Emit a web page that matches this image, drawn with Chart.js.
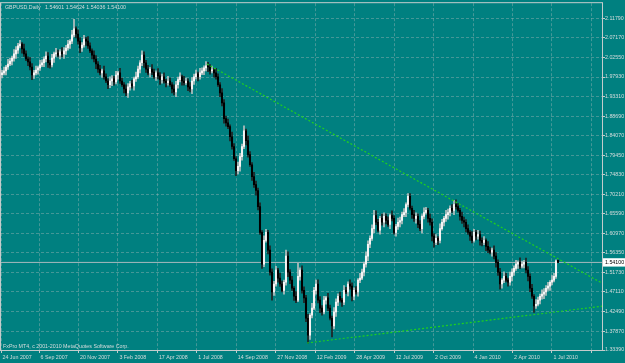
<!DOCTYPE html>
<html>
<head>
<meta charset="utf-8">
<title>GBPUSD,Daily</title>
<script src="https://cdn.jsdelivr.net/npm/chart.js@4.4.0/dist/chart.umd.min.js"></script>
<style>
    html, body { margin: 0; padding: 0; background: #008080; overflow: hidden; }
    canvas { display: block; }
</style>
</head>
<body>
<canvas id="priceCanvas" width="625" height="363"></canvas>
<script>
// one bar per ~3 trading days
var opens = [1.985,1.989,1.994,2.003,2.010,2.017,2.024,2.034,2.043,2.053,
2.057,2.046,2.034,2.022,2.015,2.003,1.984,1.989,1.996,2.001,
2.008,2.013,2.022,2.029,2.013,2.008,2.024,2.034,2.036,2.031,
2.039,2.034,2.041,2.048,2.057,2.064,2.079,2.093,2.081,2.064,
2.048,2.055,2.069,2.064,2.053,2.041,2.031,2.022,2.010,1.998,
1.989,1.994,1.980,1.970,1.961,1.970,1.975,1.968,1.984,1.989,
1.970,1.961,1.951,1.942,1.956,1.963,1.958,1.975,1.980,1.998,
2.013,2.031,2.013,1.998,1.989,1.998,1.991,1.980,1.989,1.982,
1.973,1.980,1.970,1.966,1.970,1.961,1.951,1.944,1.961,1.973,
1.980,1.970,1.966,1.970,1.956,1.951,1.970,1.980,1.987,1.980,
1.989,1.994,2.001,2.006,2.003,1.994,1.996,1.989,1.980,1.961,
1.942,1.918,1.881,1.871,1.862,1.838,1.815,1.786,1.758,1.768,
1.791,1.815,1.852,1.829,1.796,1.772,1.744,1.725,1.711,1.673,
1.612,1.537,1.593,1.612,1.570,1.518,1.471,1.490,1.523,1.504,
1.490,1.475,1.494,1.556,1.518,1.499,1.480,1.461,1.452,1.508,
1.523,1.475,1.457,1.409,1.369,1.416,1.433,1.475,1.490,1.452,
1.433,1.424,1.452,1.457,1.433,1.409,1.391,1.424,1.447,1.461,
1.452,1.447,1.475,1.471,1.490,1.485,1.461,1.475,1.471,1.499,
1.504,1.518,1.537,1.556,1.584,1.598,1.621,1.652,1.636,1.617,
1.645,1.636,1.650,1.640,1.631,1.652,1.645,1.612,1.626,1.636,
1.640,1.654,1.659,1.678,1.697,1.669,1.654,1.645,1.650,1.631,
1.621,1.650,1.659,1.664,1.645,1.636,1.603,1.588,1.598,1.593,
1.621,1.636,1.645,1.654,1.659,1.669,1.664,1.678,1.673,1.664,
1.650,1.640,1.636,1.621,1.612,1.603,1.593,1.612,1.603,1.607,
1.593,1.588,1.593,1.579,1.570,1.565,1.570,1.556,1.541,1.518,
1.490,1.499,1.508,1.499,1.494,1.508,1.518,1.527,1.537,1.541,
1.532,1.537,1.541,1.523,1.508,1.480,1.461,1.438,1.442,1.452,
1.461,1.466,1.471,1.480,1.485,1.494,1.499,1.508,1.54601];

var highs = [1.995,2.003,2.007,2.021,2.024,2.029,2.044,2.051,2.059,2.066,
2.061,2.057,2.041,2.027,2.025,2.011,1.995,2.005,2.005,2.019,
2.020,2.027,2.039,2.037,2.019,2.033,2.038,2.047,2.043,2.044,
2.049,2.049,2.054,2.066,2.068,2.090,2.116,2.098,2.091,2.072,
2.061,2.078,2.073,2.075,2.060,2.046,2.041,2.030,2.016,2.007,
1.998,2.005,1.987,1.975,1.980,1.983,1.981,1.993,1.993,2.000,
1.977,1.966,1.961,1.964,1.969,1.972,1.979,1.991,2.005,2.018,
2.041,2.039,2.019,2.007,2.002,2.009,1.998,1.994,1.999,1.990,
1.986,1.989,1.974,1.981,1.977,1.966,1.961,1.969,1.979,1.989,
1.984,1.981,1.977,1.975,1.966,1.978,1.986,1.996,1.991,2.000,
2.001,2.006,2.016,2.014,2.009,2.005,2.000,2.000,1.987,1.966,
1.952,1.926,1.887,1.880,1.866,1.849,1.822,1.791,1.778,1.799,
1.821,1.864,1.856,1.840,1.803,1.777,1.754,1.733,1.717,1.682,
1.616,1.604,1.619,1.617,1.580,1.526,1.496,1.532,1.527,1.515,
1.497,1.499,1.570,1.566,1.524,1.508,1.484,1.472,1.539,1.528,
1.533,1.483,1.463,1.418,1.420,1.444,1.482,1.499,1.500,1.460,
1.439,1.461,1.461,1.468,1.440,1.414,1.434,1.455,1.467,1.470,
1.456,1.486,1.482,1.495,1.500,1.493,1.481,1.484,1.503,1.515,
1.525,1.542,1.566,1.592,1.604,1.630,1.664,1.663,1.643,1.650,
1.655,1.658,1.656,1.649,1.656,1.663,1.652,1.631,1.646,1.648,
1.660,1.668,1.682,1.704,1.704,1.674,1.664,1.658,1.656,1.640,
1.654,1.670,1.671,1.669,1.655,1.644,1.609,1.607,1.602,1.632,
1.643,1.650,1.664,1.667,1.675,1.678,1.688,1.689,1.680,1.669,
1.660,1.648,1.642,1.630,1.616,1.614,1.619,1.617,1.617,1.615,
1.599,1.602,1.597,1.590,1.577,1.575,1.580,1.564,1.547,1.527,
1.503,1.519,1.515,1.504,1.518,1.526,1.533,1.546,1.545,1.552,
1.544,1.546,1.551,1.531,1.514,1.489,1.465,1.453,1.459,1.466,
1.476,1.479,1.486,1.494,1.498,1.510,1.515,1.547,1.54624];

var lows = [1.977,1.984,1.984,1.997,2.006,2.008,2.017,2.023,2.035,2.048,
2.036,2.028,2.018,2.006,1.996,1.973,1.976,1.984,1.986,1.995,
2.004,2.004,2.015,2.002,2.000,2.003,2.014,2.028,2.027,2.022,
2.027,2.023,2.033,2.043,2.047,2.058,2.075,2.072,2.057,2.037,
2.040,2.050,2.054,2.047,2.037,2.022,2.015,1.999,1.990,1.984,
1.979,1.974,1.966,1.952,1.954,1.959,1.960,1.963,1.974,1.964,
1.957,1.942,1.935,1.931,1.948,1.953,1.948,1.969,1.976,1.989,
2.006,2.002,1.990,1.984,1.979,1.985,1.976,1.971,1.975,1.962,
1.965,1.965,1.956,1.960,1.957,1.942,1.937,1.933,1.953,1.968,
1.960,1.960,1.962,1.947,1.944,1.940,1.962,1.975,1.970,1.974,
1.985,1.985,1.994,1.992,1.986,1.989,1.979,1.974,1.957,1.933,
1.911,1.870,1.863,1.857,1.828,1.809,1.782,1.746,1.751,1.757,
1.783,1.810,1.819,1.790,1.768,1.735,1.718,1.700,1.665,1.607,
1.527,1.531,1.589,1.561,1.511,1.452,1.463,1.485,1.494,1.484,
1.471,1.466,1.487,1.507,1.491,1.475,1.451,1.446,1.448,1.499,
1.468,1.446,1.401,1.350,1.359,1.410,1.429,1.466,1.445,1.422,
1.416,1.419,1.442,1.427,1.405,1.365,1.384,1.413,1.439,1.447,
1.437,1.441,1.467,1.462,1.478,1.450,1.453,1.466,1.461,1.493,
1.500,1.509,1.530,1.545,1.576,1.593,1.611,1.630,1.613,1.608,
1.629,1.625,1.632,1.626,1.621,1.639,1.608,1.603,1.619,1.625,
1.632,1.649,1.649,1.672,1.665,1.645,1.638,1.634,1.623,1.616,
1.611,1.644,1.655,1.636,1.629,1.592,1.577,1.583,1.583,1.587,
1.617,1.627,1.638,1.643,1.651,1.659,1.654,1.667,1.660,1.641,
1.633,1.625,1.613,1.607,1.593,1.587,1.589,1.594,1.596,1.582,
1.580,1.583,1.569,1.564,1.561,1.556,1.549,1.530,1.510,1.478,
1.480,1.493,1.495,1.485,1.487,1.497,1.510,1.522,1.527,1.526,
1.528,1.528,1.516,1.497,1.472,1.456,1.423,1.432,1.438,1.443,
1.454,1.455,1.463,1.475,1.475,1.488,1.495,1.503,1.54036];

var closes = [1.989,1.994,2.003,2.010,2.017,2.024,2.034,2.043,2.053,2.057,
2.046,2.034,2.022,2.015,2.003,1.984,1.989,1.996,2.001,2.008,
2.013,2.022,2.029,2.013,2.008,2.024,2.034,2.036,2.031,2.039,
2.034,2.041,2.048,2.057,2.064,2.079,2.093,2.081,2.064,2.048,
2.055,2.069,2.064,2.053,2.041,2.031,2.022,2.010,1.998,1.989,
1.994,1.980,1.970,1.961,1.970,1.975,1.968,1.984,1.989,1.970,
1.961,1.951,1.942,1.956,1.963,1.958,1.975,1.980,1.998,2.013,
2.031,2.013,1.998,1.989,1.998,1.991,1.980,1.989,1.982,1.973,
1.980,1.970,1.966,1.970,1.961,1.951,1.944,1.961,1.973,1.980,
1.970,1.966,1.970,1.956,1.951,1.970,1.980,1.987,1.980,1.989,
1.994,2.001,2.006,2.003,1.994,1.996,1.989,1.980,1.961,1.942,
1.918,1.881,1.871,1.862,1.838,1.815,1.786,1.758,1.768,1.791,
1.815,1.852,1.829,1.796,1.772,1.744,1.725,1.711,1.673,1.612,
1.537,1.593,1.612,1.570,1.518,1.471,1.490,1.523,1.504,1.490,
1.475,1.494,1.556,1.518,1.499,1.480,1.461,1.452,1.508,1.523,
1.475,1.457,1.409,1.369,1.416,1.433,1.475,1.490,1.452,1.433,
1.424,1.452,1.457,1.433,1.409,1.391,1.424,1.447,1.461,1.452,
1.447,1.475,1.471,1.490,1.485,1.461,1.475,1.471,1.499,1.504,
1.518,1.537,1.556,1.584,1.598,1.621,1.652,1.636,1.617,1.645,
1.636,1.650,1.640,1.631,1.652,1.645,1.612,1.626,1.636,1.640,
1.654,1.659,1.678,1.697,1.669,1.654,1.645,1.650,1.631,1.621,
1.650,1.659,1.664,1.645,1.636,1.603,1.588,1.598,1.593,1.621,
1.636,1.645,1.654,1.659,1.669,1.664,1.678,1.673,1.664,1.650,
1.640,1.636,1.621,1.612,1.603,1.593,1.612,1.603,1.607,1.593,
1.588,1.593,1.579,1.570,1.565,1.570,1.556,1.541,1.518,1.490,
1.499,1.508,1.499,1.494,1.508,1.518,1.527,1.537,1.541,1.532,
1.537,1.541,1.523,1.508,1.480,1.461,1.438,1.442,1.452,1.461,
1.466,1.471,1.480,1.485,1.494,1.499,1.508,1.545,1.54100];

var dateLabels = ["24 Jun 2007", "6 Sep 2007", "20 Nov 2007", "3 Feb 2008", "17 Apr 2008",
    "1 Jul 2008", "14 Sep 2008", "27 Nov 2008", "12 Feb 2009", "28 Apr 2009",
    "12 Jul 2009", "2 Oct 2009", "4 Jan 2010", "2 Apr 2010", "1 Jul 2010"];

var priceTicks = [1.3339, 1.3787, 1.4249, 1.4711, 1.5173, 1.5635, 1.6097, 1.6559, 1.7021,
    1.7483, 1.7945, 1.8407, 1.8869, 1.9331, 1.9793, 2.0255, 2.0717, 2.1179];

var bidPrice = 1.541;

// trend lines as [bar index, price]
var upperTrend = [[102.5, 2.010], [300, 1.492]];
var lowerTrend = [[152.5, 1.3505], [300, 1.4376]];

var colors = {
    back: '#008080',
    text: '#d6dcdc',
    grid: 'rgba(180, 190, 190, 0.38)',
    frame: '#c4cccc',
    bullBody: '#f4f4f4',
    bearBody: '#000000',
    bullWick: '#b8c0c0',
    bearWick: '#202020',
    trend: '#1fd01f',
    bid: '#a8b8bc'
};

var fontFamily = '"Liberation Sans", Arial, sans-serif';
var fontSize = 5.3;

function isUp(i) {
    return closes[i] >= opens[i];
}

window.onload = function () {
    var ctx = document.getElementById("priceCanvas").getContext("2d");

    var wickData = [], bodyData = [];
    for (let i = 0; i < closes.length; i++) {
        wickData.push({ x: i, y: [lows[i], highs[i]] });
        bodyData.push({ x: i, y: [opens[i], closes[i]] });
    }

    // label positions along the bar axis, one extra empty grid line at the end
    var dateTicks = [-0.5];
    for (let k = 1; k <= dateLabels.length; k++) {
        dateTicks.push(18.5 + (k - 1) * 19.73);
    }

    var overlay = {
        id: 'overlay',
        afterDraw(chart) {
            const c = chart.ctx, a = chart.chartArea;
            c.save();
            c.strokeStyle = colors.frame;
            c.lineWidth = 1;
            c.strokeRect(a.left - 0.5, a.top - 0.5, a.right - a.left + 1, a.bottom - a.top + 1);
            c.fillStyle = colors.text;
            c.font = fontSize + 'px ' + fontFamily;
            c.textBaseline = 'top';
            c.fillText('GBPUSD,Daily   1.54601 1.54624 1.54036 1.54100', a.left + 4, a.top + 2);
            c.textBaseline = 'bottom';
            c.fillText('FxPro MT4, c 2001-2010 MetaQuotes Software Corp.', a.left + 2, a.bottom - 1);
            c.restore();
        }
    };

    const priceChart = new Chart(ctx, {
        type: "bar",
        data: {
            datasets: [
                {
                    type: "line",
                    label: "Bid",
                    data: [{ x: -0.5, y: bidPrice }, { x: 300, y: bidPrice }],
                    borderColor: colors.bid,
                    borderWidth: 1,
                    pointRadius: 0,
                    order: 5
                },
                {
                    label: "Wicks",
                    data: wickData,
                    backgroundColor: (c) => isUp(c.dataIndex) ? colors.bullWick : colors.bearWick,
                    barThickness: 1,
                    grouped: false,
                    order: 3
                },
                {
                    label: "Bodies",
                    data: bodyData,
                    backgroundColor: (c) => isUp(c.dataIndex) ? colors.bullBody : colors.bearBody,
                    barThickness: 1.4,
                    minBarLength: 1,
                    grouped: false,
                    order: 2
                },
                {
                    type: "line",
                    label: "Trend 1",
                    data: upperTrend.map(p => ({ x: p[0], y: p[1] })),
                    borderColor: colors.trend,
                    borderWidth: 1.2,
                    borderDash: [2, 2],
                    pointRadius: 0,
                    order: 1
                },
                {
                    type: "line",
                    label: "Trend 2",
                    data: lowerTrend.map(p => ({ x: p[0], y: p[1] })),
                    borderColor: colors.trend,
                    borderWidth: 1.2,
                    borderDash: [2, 2],
                    pointRadius: 0,
                    order: 1
                }
            ]
        },
        options: {
            responsive: false,
            animation: false,
            devicePixelRatio: 1,
            layout: { padding: { left: 1, top: 2, right: 0, bottom: 0 } },
            plugins: {
                legend: { display: false },
                tooltip: { enabled: false }
            },
            scales: {
                x: {
                    type: "linear",
                    min: -0.5,
                    max: 300,
                    offset: false,
                    afterBuildTicks: (s) => { s.ticks = dateTicks.map(v => ({ value: v })); },
                    afterFit: (s) => { s.height = 13; },
                    grid: {
                        offset: false,
                        color: colors.grid,
                        tickColor: colors.frame,
                        tickLength: 3
                    },
                    border: { display: false, dash: [3, 2] },
                    ticks: {
                        autoSkip: false,
                        maxRotation: 0,
                        minRotation: 0,
                        align: "start",
                        labelOffset: 1.5,
                        padding: 1,
                        color: colors.text,
                        font: { family: fontFamily, size: fontSize },
                        callback: (v, idx) => dateLabels[idx] || ''
                    }
                },
                y: {
                    type: "linear",
                    position: "right",
                    min: 1.3339,
                    max: 2.1539,
                    afterBuildTicks: (s) => {
                        s.ticks = priceTicks.concat([bidPrice]).sort((a, b) => a - b).map(v => ({ value: v }));
                    },
                    afterFit: (s) => { s.width = 23; },
                    grid: {
                        color: (c) => (c.tick && c.tick.value === bidPrice) ? 'rgba(0,0,0,0)' : colors.grid,
                        tickColor: colors.frame,
                        tickLength: 3
                    },
                    border: { display: false, dash: [3, 2] },
                    ticks: {
                        autoSkip: false,
                        padding: 0,
                        color: (c) => (c.tick && c.tick.value === bidPrice) ? '#000000' : colors.text,
                        showLabelBackdrop: (c) => !!(c.tick && c.tick.value === bidPrice),
                        backdropColor: '#ffffff',
                        backdropPadding: { x: 2, y: 1 },
                        font: { family: fontFamily, size: fontSize },
                        callback: (v) => Number(v).toFixed(5)
                    }
                }
            }
        },
        plugins: [overlay]
    });
};
</script>
</body>
</html>
